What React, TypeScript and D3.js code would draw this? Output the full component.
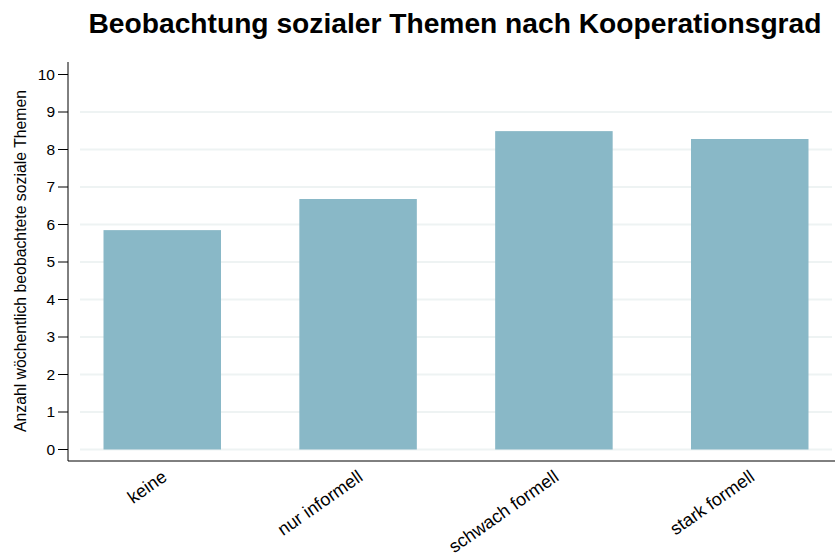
import React from "react";
import * as d3 from "d3";

const categories = ["keine", "nur informell", "schwach formell", "stark formell"];
const values = [5.85, 6.68, 8.49, 8.28];
const yTicks = [0, 1, 2, 3, 4, 5, 6, 7, 8, 9, 10];
const gridTicks = [0, 1, 2, 3, 4, 5, 6, 7, 8, 9];
const title = "Beobachtung sozialer Themen nach Kooperationsgrad";
const yTitle = "Anzahl wöchentlich beobachtete soziale Themen";

export default function App() {
  const W = 835, H = 559;
  const x = d3.scaleBand<string>().domain(categories).range([80, 832]).paddingInner(0.4).paddingOuter(0.12);
  const y = d3.scaleLinear().domain([0, 10]).range([449.5, 74.5]);
  const axisX = 68;
  const axisY = 461;
  const font = "Liberation Sans, Arial, sans-serif";
  return (
    <svg width={W} height={H} style={{ position: "absolute", left: 0, top: 0 }} fontFamily={font}>
      <rect width={W} height={H} fill="#fff" />
      <text x={455} y={33} textAnchor="middle" fontSize={28.2} fontWeight="bold" fill="#000">{title}</text>
      {gridTicks.map(t => (
        <line key={"g" + t} x1={80} x2={832} y1={y(t)} y2={y(t)} stroke="#eef3f3" strokeWidth={2} />
      ))}
      {categories.map((c, i) => (
        <rect key={c} x={x(c)} y={y(values[i])} width={x.bandwidth()} height={y(0) - y(values[i])} fill="#89b8c7" />
      ))}
      <line x1={axisX} x2={axisX} y1={62} y2={axisY} stroke="#000" strokeWidth={1} />
      <line x1={axisX} x2={835} y1={axisY} y2={axisY} stroke="#000" strokeWidth={1} />
      {yTicks.map(t => (
        <g key={"t" + t}>
          <line x1={axisX - 10} x2={axisX} y1={y(t)} y2={y(t)} stroke="#000" />
          <text x={55} y={y(t)} dy="0.35em" textAnchor="end" fontSize={15.5} fill="#000">{t}</text>
        </g>
      ))}
      <text transform={`translate(25.5,261) rotate(-90)`} textAnchor="middle" fontSize={15.8} fill="#000">{yTitle}</text>
      {categories.map(c => {
        const cx = (x(c) as number) + x.bandwidth() / 2;
        return (
          <text key={"l" + c} transform={`translate(${cx + 6},${axisY + 18.5}) rotate(-35)`} textAnchor="end" fontSize={18} fill="#000">{c}</text>
        );
      })}
    </svg>
  );
}
